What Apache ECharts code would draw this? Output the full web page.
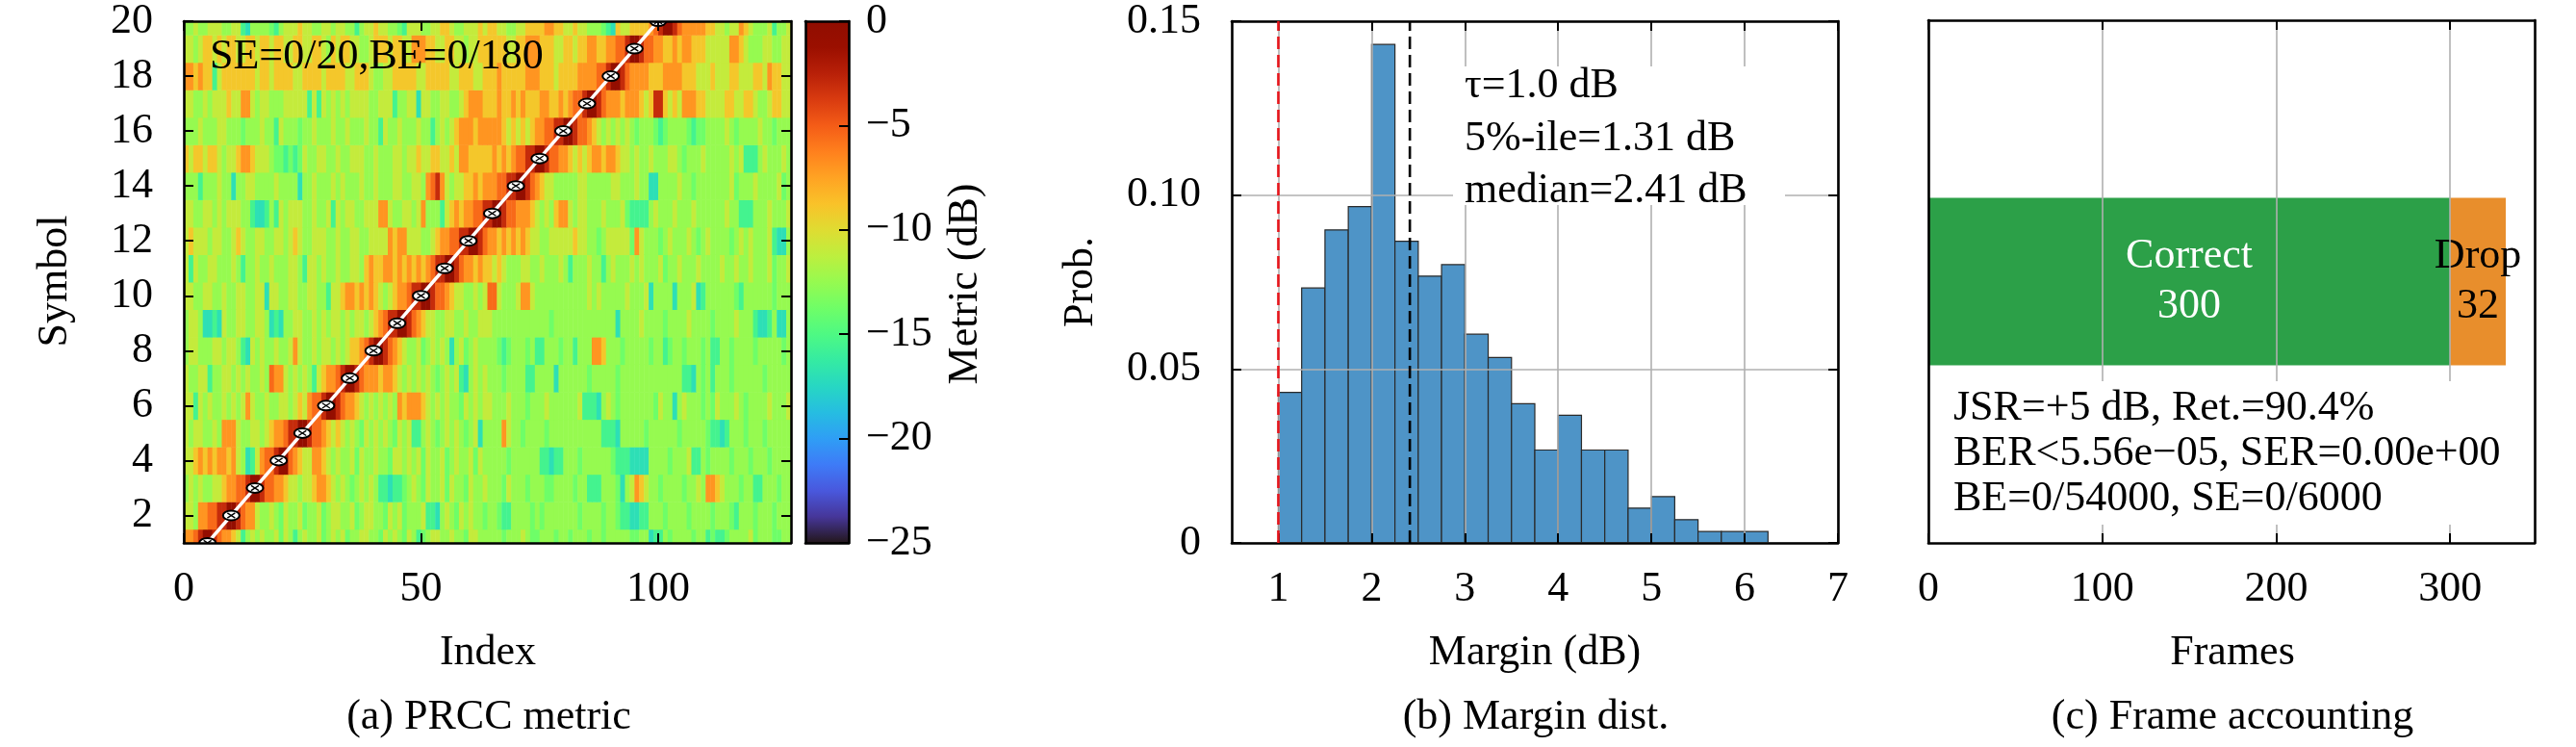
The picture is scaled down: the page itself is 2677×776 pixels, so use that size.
<!DOCTYPE html>
<html>
<head>
<meta charset="utf-8">
<script src="https://cdn.jsdelivr.net/npm/echarts@6/dist/echarts.min.js"></script>
<style>
html, body { margin: 0; padding: 0; background: #fff; }
#chart { width: 2677px; height: 776px; }
</style>
</head>
<body>
<div id="chart"></div>
<script>
const FONT = '"Liberation Serif", "Times New Roman", serif'
const FS = 44
const GRAY = '#b0b0b0'

// ---- (a) PRCC metric ----
// one string per symbol row (symbol 1 first), one char per index, char -> levelDb
const levelDb = [-0.5, -3, -5.5, -7, -9, -11, -12.5, -13.8, -15.5, -17]
const heatRows = [
    ["3321001233458656", "5665756865665765", "6576655667565675", "6876556656675566", "6667666567766676", "6766676676666677", "6698867666676687", "8876666576667766"],
    ["5563322110012335", "6656756657665765", "5665765566756576", "6658896567565667", "6678866667676666", "6667666676678899", "8866676666766667", "6667866676667666"],
    ["6565665543322100", "1223345565543345", "6567656568898876", "5675665756675665", "6667566676667766", "6676688866679653", "4566766667665633", "4566676688666766"],
    ["5543434334356985", "3221002345533456", "5665756656675565", "6575665765665756", "6666766666688988", "6667666666788899", "9966667666588676", "6667666766676666"],
    ["5655665633356655", "6543321100122345", "4565675656567565", "8865676565676596", "6663566766667666", "6666666688896666", "6766666676666678", "8986667666766666"],
    ["5585656656565356", "6566556545322100", "1233456565656343", "3345656566756565", "5666566676665666", "6665888965676666", "6667566965666767", "5666567666656665"],
    ["5665586655656566", "5623356565685433", "2100123334334565", "6565676565896565", "6667666688666696", "6666676666676666", "6666666668896768", "6667666666766666"],
    ["6556665565568956", "5665665356656556", "5654432100123456", "6576565696576566", "6678766676886667", "6686663346667666", "6676687667666768", "8667666676666676"],
    ["6556998956655665", "5698966556656565", "5656556543211001", "2345566556656655", "5666666666666766", "6666666666696666", "5666676666566667", "6666566689986996"],
    ["5566556656655665", "5955665566556685", "5433434345654332", "1100122345566565", "2256665335666666", "6666656566666566", "6596666966659866", "6666786666667666"],
    ["5856655666568665", "6656665568556566", "5665564344334343", "4343211001233434", "4545666556656665", "6866656686566656", "5666576656665666", "6566566566657665"],
    ["5455565566545665", "5665565456655566", "5665566555534335", "5566543322110012", "3343434345566555", "5545566765555573", "5666765666567656", "6667656566658996"],
    ["5566556565556689", "9868565556656658", "5655665553356655", "6536668543433221", "1001223334565643", "3565566656665788", "8865666566656666", "6656688866656665"],
    ["6668666566966556", "6665666696656665", "6566656656665566", "5563213565544343", "3322110012345566", "6665566666556665", "6699666656676666", "6665766656666576"],
    ["4544544565543345", "5567787875665566", "5665556656665565", "5455445545334444", "4343432211001223", "3454543343345565", "6656665567666566", "6665658886566656"],
    ["6665666556667666", "5668566676656665", "6656665668566566", "6566865654333433", "3334545454332211", "0012234565656567", "6667876666787766", "6656766665667666"],
    ["5566565554553356", "5566655555858565", "6565555665558665", "5955665566543334", "4434434344433443", "4322100123334333", "4541145453334455", "5544554456654455"],
    ["3343448544444445", "4454444554444544", "4455444566554444", "4554444455444554", "4434444433344454", "4443333221001233", "3344433334445554", "5554455544534455"],
    ["5565445454455445", "4454455445544564", "5445566544454455", "3334455445565544", "4444554433344455", "4454433443322100", "1223344343344455", "5553345666556655"],
    ["6656655566558966", "6678655545566556", "5566865545566785", "5566554456655545", "4455665544443344", "5545566678945544", "4432100123333344", "5565534566658665"]
].map(g => g.join(''))
const symbolIdx = [5, 10, 15, 20, 25, 30, 35, 40, 45, 50, 55, 60, 65, 70, 75, 80, 85, 90, 95, 100]
const symbolNum = [1, 2, 3, 4, 5, 6, 7, 8, 9, 10, 11, 12, 13, 14, 15, 16, 17, 18, 19, 20]
const xTicksA = [0, 50, 100]
const yTicksA = [2, 4, 6, 8, 10, 12, 14, 16, 18, 20]
const cbTicks = [0, -5, -10, -15, -20, -25]
const noteA = 'SE=0/20,BE=0/180'

// ---- (b) margin distribution ----
const binLo = [1.0, 1.25, 1.5, 1.75, 2.0, 2.25, 2.5, 2.75, 3.0, 3.25, 3.5, 3.75, 4.0, 4.25, 4.5, 4.75, 5.0, 5.25, 5.5, 5.75, 6.0]
const binHi = [1.25, 1.5, 1.75, 2.0, 2.25, 2.5, 2.75, 3.0, 3.25, 3.5, 3.75, 4.0, 4.25, 4.5, 4.75, 5.0, 5.25, 5.5, 5.75, 6.0, 6.25]
const binProb = [0.0433, 0.0733, 0.0900, 0.0967, 0.1433, 0.0867, 0.0767, 0.0800, 0.0600, 0.0533, 0.0400, 0.0267, 0.0367, 0.0267, 0.0267, 0.0100, 0.0133, 0.0067, 0.0033, 0.0033, 0.0033]
const tauDb = 1.0
const medianDb = 2.41
const xTicksB = [1, 2, 3, 4, 5, 6, 7]
const yTicksB = [0, 0.05, 0.10, 0.15]
const notesB = ['τ=1.0 dB', '5%-ile=1.31 dB', 'median=2.41 dB']

// ---- (c) frame accounting ----
const frameCats = ['Correct', 'Drop']
const frameCounts = [300, 32]
const frameColors = ['#2ca048', '#e88e2c']
const xMaxC = 348.6
const xTicksC = [0, 100, 200, 300]
const notesC = ['JSR=+5 dB, Ret.=90.4%', 'BER<5.56e\u221205, SER=0.00e+00', 'BE=0/54000, SE=0/6000']

// google turbo polynomial
function turbo(t) {
    let r = 0.13572138 + t * (4.61539260 + t * (-42.66032258 + t * (132.13108234 + t * (-152.94239396 + t * 59.28637943))))
    let g = 0.09140261 + t * (2.19418839 + t * (4.84296658 + t * (-14.18503333 + t * (4.27729857 + t * 2.82956604))))
    let b = 0.10667330 + t * (12.64194608 + t * (-60.58204836 + t * (110.36276771 + t * (-89.90310912 + t * 27.34824973))))
    const c = v => Math.round(255 * Math.min(1, Math.max(0, v)))
    return 'rgb(' + c(r) + ',' + c(g) + ',' + c(b) + ')'
}
let turboColors = []
for (let s = 0; s <= 20; s++) turboColors.push(turbo(s / 20))

function heatData() {
    let data = []
    heatRows.forEach((row, r) => {
        for (let i = 0; i < row.length; i++) {
            data.push([i, symbolNum[r], levelDb[+row[i]]])
        }
    })
    return data
}

function renderCell(params, api) {
    let i = api.value(0), k = api.value(1)
    let lo = Math.max(k - 0.5, 1), hi = Math.min(k + 0.5, 20)
    let p0 = api.coord([i, hi]), p1 = api.coord([i + 1, lo])
    return {
        type: 'rect',
        shape: { x: p0[0], y: p0[1], width: p1[0] - p0[0] + 0.5, height: p1[1] - p0[1] + 0.5 },
        style: { fill: api.visual('color') }
    }
}

function renderColorbar(params, api) {
    let p0 = api.coord([0, 0]), p1 = api.coord([1, -25])
    let stops = turboColors.map((c, i) => ({ offset: 1 - i / 20, color: c })).reverse()
    return {
        type: 'rect',
        shape: { x: p0[0], y: p0[1], width: p1[0] - p0[0], height: p1[1] - p0[1] },
        style: { fill: new echarts.graphic.LinearGradient(0, 0, 0, 1, stops) }
    }
}

function renderMarker(params, api) {
    let p = api.coord([api.value(0), api.value(1)])
    let rx = 8.5, ry = 5, x = p[0], y = p[1]
    let d = 'M' + (x - rx) + ' ' + y + 'A' + rx + ' ' + ry + ' 0 1 0 ' + (x + rx) + ' ' + y +
        'A' + rx + ' ' + ry + ' 0 1 0 ' + (x - rx) + ' ' + y + 'Z'
    let xs = { stroke: '#000', lineWidth: 1.4 }
    return {
        type: 'group',
        children: [
            { type: 'path', shape: { pathData: d }, style: { fill: '#fff', stroke: '#000', lineWidth: 2 } },
            { type: 'line', shape: { x1: x - 4, y1: y - 2.6, x2: x + 4, y2: y + 2.6 }, style: xs },
            { type: 'line', shape: { x1: x - 4, y1: y + 2.6, x2: x + 4, y2: y - 2.6 }, style: xs }
        ]
    }
}

function renderBin(params, api) {
    let p0 = api.coord([api.value(0), api.value(2)])
    let p1 = api.coord([api.value(1), 0])
    return {
        type: 'rect',
        shape: { x: p0[0], y: p0[1], width: p1[0] - p0[0], height: p1[1] - p0[1] },
        style: { fill: '#4e94c7', stroke: '#2a2a2a', lineWidth: 1.2 }
    }
}

function axis(gridIndex, position, extra) {
    return Object.assign({
        gridIndex: gridIndex,
        position: position,
        type: 'value',
        z: 5,
        axisLine: { show: true, onZero: false, lineStyle: { color: '#000', width: 2.6 } },
        axisTick: { show: false },
        axisLabel: { show: false },
        splitLine: { show: false }
    }, extra)
}
function ticksIn(values) {
    return { show: true, inside: true, length: 10, customValues: values, lineStyle: { color: '#000', width: 2 } }
}
function labels(values, margin, fmt) {
    return { show: true, customValues: values, margin: margin, fontFamily: FONT, fontSize: FS, color: '#000', formatter: fmt }
}
const grayLines = { show: true, lineStyle: { color: GRAY, width: 1.6 } }
const minusFmt = v => v === 0 ? '0' : '\u2212' + Math.abs(v)
const probFmt = v => v === 0 ? '0' : v.toFixed(2)

function text(str, x, y, align, rot) {
    return {
        type: 'text', x: x, y: y, rotation: rot || 0, z: 10,
        style: {
            text: str, font: FS + 'px ' + FONT, fill: '#000',
            align: align || 'center', textAlign: align || 'center',
            verticalAlign: 'middle', textVerticalAlign: 'middle'
        }
    }
}
function box(x, y, w, h) {
    return { type: 'rect', z: 9, shape: { x: x, y: y, width: w, height: h }, style: { fill: '#fff' } }
}

let diag = symbolIdx.map((x, i) => [x, symbolNum[i]])
let hist = binLo.map((lo, i) => [lo, binHi[i], binProb[i]])

let chart = echarts.init(document.getElementById('chart'))
let option = {
    animation: false,
    textStyle: { fontFamily: FONT },
    grid: [
        { left: 191, top: 21, width: 631, height: 543 },
        { left: 837, top: 21, width: 45, height: 543 },
        { left: 1280, top: 21, width: 630, height: 543 },
        { left: 2004, top: 21, width: 630, height: 543 }
    ],
    xAxis: [
        axis(0, 'bottom', { min: 0, max: 128, axisTick: ticksIn(xTicksA), axisLabel: labels(xTicksA, 26) }),
        axis(0, 'top', { min: 0, max: 128, axisTick: ticksIn(xTicksA) }),
        axis(1, 'bottom', { min: 0, max: 1 }),
        axis(1, 'top', { min: 0, max: 1 }),
        axis(2, 'bottom', { min: 0.5, max: 7, axisTick: ticksIn(xTicksB), axisLabel: labels(xTicksB, 26), splitLine: grayLines }),
        axis(2, 'top', { min: 0.5, max: 7, axisTick: ticksIn(xTicksB) }),
        axis(3, 'bottom', { min: 0, max: xMaxC, axisTick: ticksIn(xTicksC), axisLabel: labels(xTicksC, 26), splitLine: grayLines }),
        axis(3, 'top', { min: 0, max: xMaxC, axisTick: ticksIn(xTicksC) })
    ],
    yAxis: [
        axis(0, 'left', { min: 1, max: 20, axisTick: ticksIn(yTicksA), axisLabel: labels(yTicksA, 32) }),
        axis(0, 'right', { min: 1, max: 20, axisTick: ticksIn(yTicksA) }),
        axis(1, 'left', { min: -25, max: 0 }),
        axis(1, 'right', { min: -25, max: 0, axisTick: ticksIn(cbTicks), axisLabel: labels(cbTicks, 18, minusFmt) }),
        axis(2, 'left', { min: 0, max: 0.15, axisTick: ticksIn(yTicksB), axisLabel: labels(yTicksB, 32, probFmt), splitLine: grayLines }),
        axis(2, 'right', { min: 0, max: 0.15, axisTick: ticksIn(yTicksB) }),
        axis(3, 'left', { type: 'category', data: ['frames'] }),
        axis(3, 'right', { min: 0, max: 1 })
    ],
    visualMap: {
        type: 'continuous', show: false, seriesIndex: 0, dimension: 2,
        min: -25, max: 0, inRange: { color: turboColors }
    },
    series: [
        { type: 'custom', xAxisIndex: 0, yAxisIndex: 0, data: heatData(), encode: { x: 0, y: 1 }, renderItem: renderCell, z: 1, silent: true },
        { type: 'custom', xAxisIndex: 2, yAxisIndex: 2, data: [[0, 0]], renderItem: renderColorbar, z: 1, silent: true },
        { type: 'line', xAxisIndex: 0, yAxisIndex: 0, data: diag, symbol: 'none', lineStyle: { color: '#fff', width: 3.5 }, z: 3, silent: true },
        { type: 'custom', xAxisIndex: 0, yAxisIndex: 0, data: diag, renderItem: renderMarker, clip: true, z: 4, silent: true },
        { type: 'custom', xAxisIndex: 4, yAxisIndex: 4, data: hist, encode: { x: [0, 1], y: 2 }, renderItem: renderBin, z: 2, silent: true },
        { type: 'line', xAxisIndex: 4, yAxisIndex: 4, data: [[tauDb, 0], [tauDb, 0.15]], symbol: 'none', lineStyle: { color: '#e8151b', width: 2.6, type: [13, 6] }, z: 6, silent: true },
        { type: 'line', xAxisIndex: 4, yAxisIndex: 4, data: [[medianDb, 0], [medianDb, 0.15]], symbol: 'none', lineStyle: { color: '#000', width: 2.6, type: [13, 6] }, z: 6, silent: true }
    ].concat(frameCats.map((name, i) => ({
        type: 'bar', name: name, xAxisIndex: 6, yAxisIndex: 6, stack: 'frames',
        data: [frameCounts[i]], barWidth: '32%', z: 2, silent: true,
        itemStyle: { color: frameColors[i] },
        label: {
            show: true, position: 'inside', formatter: p => p.seriesName + '\n' + p.value,
            color: i === 0 ? '#fff' : '#000', fontFamily: FONT, fontSize: FS, lineHeight: 52
        }
    }))),
    graphic: [
        text(noteA, 218, 59, 'left'),
        text('Symbol', 57, 292, 'center', Math.PI / 2),
        text('Index', 507, 678),
        text('(a) PRCC metric', 508, 745),
        text('Metric (dB)', 1003, 295, 'center', Math.PI / 2),
        text('Prob.', 1123, 293, 'center', Math.PI / 2),
        box(1510, 69, 345, 144),
        text(notesB[0], 1522, 89, 'left'),
        text(notesB[1], 1522, 144, 'left'),
        text(notesB[2], 1522, 198, 'left'),
        text('Margin (dB)', 1595, 678),
        text('(b) Margin dist.', 1596, 745),
        box(2022, 396, 572, 149),
        text(notesC[0], 2030, 424, 'left'),
        text(notesC[1], 2030, 471, 'left'),
        text(notesC[2], 2030, 518, 'left'),
        text('Frames', 2320, 678),
        text('(c) Frame accounting', 2320, 745)
    ]
}
chart.setOption(option)
</script>
</body>
</html>
